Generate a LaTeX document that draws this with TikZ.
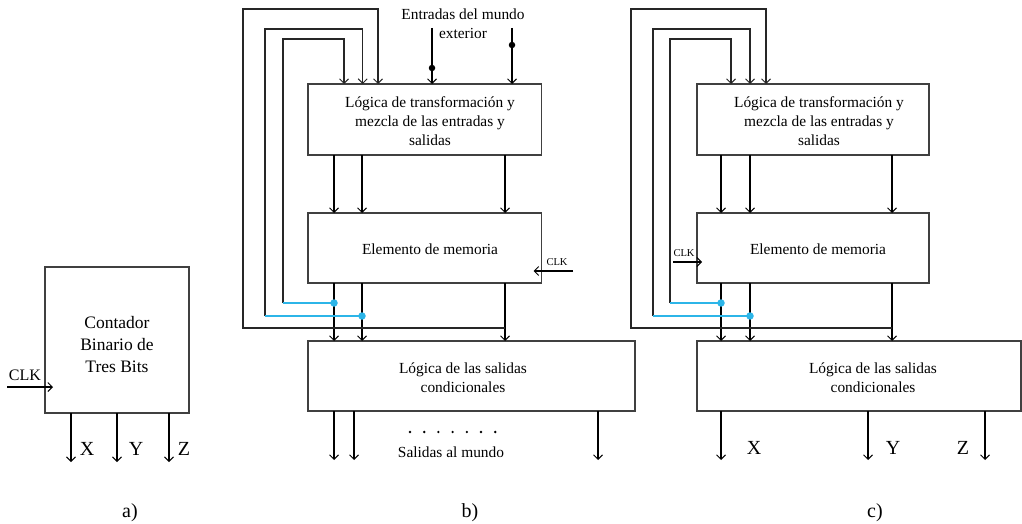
\documentclass[tikz,border=0pt]{standalone}
\usepackage{fontspec}
\setmainfont{Liberation Serif}
\usetikzlibrary{arrows.meta}
\definecolor{tapblue}{HTML}{2CB5E8}
\definecolor{edge}{HTML}{404040}
\newcommand\setfs[2]{\fontsize{#1}{#2}\selectfont}
\tikzset{
  >={Straight Barb[length=4.5pt,width=9pt,line width=1pt]},
  blk/.style={draw=edge, line width=1.1pt, outer sep=0pt, inner sep=0pt, anchor=north west},
  sig/.style={->, draw=black, line width=1.8pt},
  fb/.style={->, draw=black!85, line width=1.1pt},
  tapline/.style={draw=tapblue, line width=1.5pt},
  bdot/.style={circle, fill=tapblue, inner sep=0pt, minimum size=7.5pt},
  kdot/.style={circle, fill=black, inner sep=0pt, minimum size=6.5pt},
  sdot/.style={circle, fill=black, inner sep=0pt, minimum size=2.6pt},
  txt/.style={align=center, font=\setfs{15.4}{19}},
  big/.style={align=center, font=\setfs{17.5}{22}},
  lbl/.style={font=\setfs{20}{22}},
  clk/.style={font=\setfs{10.5}{12}},
}
\begin{document}
\begin{tikzpicture}[x=1pt,y=-1pt]
\useasboundingbox (0,0) rectangle (1022,524);

% ---------- a) three-bit counter ----------
\node[blk, minimum width=144pt, minimum height=146pt] (a) at (45,267) {};
\node[big] (atx) at (117,345) {Contador\\Binario de\\Tres Bits};
\coordinate (clka) at (7,387);
\draw[sig, shorten >=-8pt] (clka) -- (clka -| a.west);
\node[font=\setfs{16}{18}] (clkal) at (25,375) {CLK};
\coordinate (ax) at (71,462);
\coordinate (ay) at (117,462);
\coordinate (az) at (169,462);
\foreach \o in {ax,ay,az} \draw[sig] (a.south -| \o) -- (\o);
\node[lbl] (alx) at (87,449) {X};
\node[lbl] (aly) at (136,449) {Y};
\node[lbl] (alz) at (184,449) {Z};
\node[lbl] (capa) at (130,513) {a)};

% ---------- b) general sequential machine ----------
\node[blk, minimum width=233.5pt, minimum height=71pt] (b1) at (308,84) {};
\node[blk, minimum width=233.5pt, minimum height=70pt] (b2) at (308,213) {};
\node[blk, minimum width=327pt, minimum height=70pt] (b3) at (308,341) {};
\node[txt] (b1t) at (430,121) {Lógica de transformación y\\mezcla de las entradas y\\salidas};
\node[txt] (b2t) at (430,249) {Elemento de memoria};
\node[txt] (b3t) at (463,378) {Lógica de las salidas\\condicionales};
\node[txt] (ent) at (463,24) {Entradas del mundo\\exterior};

\coordinate (bc1) at (334,0);
\coordinate (bc2) at (362,0);
\coordinate (bc3) at (505,0);
\foreach \c in {bc1,bc2,bc3} {
  \draw[sig] (b1.south -| \c) -- (b2.north -| \c);
  \draw[sig] (b2.south -| \c) -- (b3.north -| \c);
}

% feedback loops
\coordinate (bt1) at (334,303);
\coordinate (bt2) at (362,316);
\coordinate (bt3) at (505,328);
\coordinate (bl1) at (283,39);
\coordinate (bl2) at (265,29);
\coordinate (bl3) at (243,9);
\coordinate (bf1) at (344,0);
\coordinate (bf2) at (362.7,0);
\coordinate (bf3) at (378,0);
\draw[fb] (bt1 -| bl1) -- (bl1) -| (b1.north -| bf1);
\draw[fb] (bt2 -| bl2) -- (bl2) -| (b1.north -| bf2);
\draw[fb] (bt3) -- (bt3 -| bl3) -- (bl3) -| (b1.north -| bf3);
\draw[tapline] (bt1) -- (bt1 -| bl1);
\draw[tapline] (bt2) -- (bt2 -| bl2);
\node[bdot] (bd1) at (bt1) {};
\node[bdot] (bd2) at (bt2) {};

% inputs from outside
\coordinate (bi1) at (432,28);
\coordinate (bi2) at (512,28);
\draw[sig] (bi1) -- (b1.north -| bi1);
\draw[sig] (bi2) -- (b1.north -| bi2);
\node[kdot] (bk1) at (432,68) {};
\node[kdot] (bk2) at (512,45) {};

% clock
\coordinate (clkb) at (573,271);
\draw[sig, shorten >=-8pt] (clkb) -- (clkb -| b2.east);
\node[clk] (clkbl) at (557,262) {CLK};

% outputs
\coordinate (bo1) at (334,460);
\coordinate (bo2) at (354,460);
\coordinate (bo3) at (598,460);
\foreach \o in {bo1,bo2,bo3} \draw[sig] (b3.south -| \o) -- (\o);
\foreach \i in {0,...,6} \node[sdot] (bdd\i) at (410+\i*14.2,432) {};
\node[txt] (sal) at (451,452) {Salidas al mundo};
\node[lbl] (capb) at (470,513) {b)};

% ---------- c) three-bit counter as a sequential machine ----------
\node[blk, minimum width=232pt, minimum height=71pt] (c1) at (697,84) {};
\node[blk, minimum width=232pt, minimum height=70pt] (c2) at (697,213) {};
\node[blk, minimum width=324pt, minimum height=70pt] (c3) at (697,341) {};
\node[txt] (c1t) at (819,121) {Lógica de transformación y\\mezcla de las entradas y\\salidas};
\node[txt] (c2t) at (818,249) {Elemento de memoria};
\node[txt] (c3t) at (873,378) {Lógica de las salidas\\condicionales};

\coordinate (cc1) at (721,0);
\coordinate (cc2) at (750,0);
\coordinate (cc3) at (892,0);
\foreach \c in {cc1,cc2,cc3} {
  \draw[sig] (c1.south -| \c) -- (c2.north -| \c);
  \draw[sig] (c2.south -| \c) -- (c3.north -| \c);
}

\coordinate (ct1) at (721,303);
\coordinate (ct2) at (750,316);
\coordinate (ct3) at (892,328);
\coordinate (cl1) at (670,39);
\coordinate (cl2) at (653,29);
\coordinate (cl3) at (631,9);
\coordinate (cf1) at (731,0);
\coordinate (cf2) at (750,0);
\coordinate (cf3) at (766,0);
\draw[fb] (ct1 -| cl1) -- (cl1) -| (c1.north -| cf1);
\draw[fb] (ct2 -| cl2) -- (cl2) -| (c1.north -| cf2);
\draw[fb] (ct3) -- (ct3 -| cl3) -- (cl3) -| (c1.north -| cf3);
\draw[tapline] (ct1) -- (ct1 -| cl1);
\draw[tapline] (ct2) -- (ct2 -| cl2);
\node[bdot] (cd1) at (ct1) {};
\node[bdot] (cd2) at (ct2) {};

\coordinate (clkc) at (673,262);
\draw[sig, shorten >=-5pt] (clkc) -- (clkc -| c2.west);
\node[clk] (clkcl) at (684,253) {CLK};

\coordinate (co1) at (721,460);
\coordinate (co2) at (868,460);
\coordinate (co3) at (985,460);
\foreach \o in {co1,co2,co3} \draw[sig] (c3.south -| \o) -- (\o);
\node[lbl] (clx) at (754,448) {X};
\node[lbl] (cly) at (893,448) {Y};
\node[lbl] (clz) at (963,448) {Z};
\node[lbl] (capc) at (875,513) {c)};
\end{tikzpicture}
\end{document}
